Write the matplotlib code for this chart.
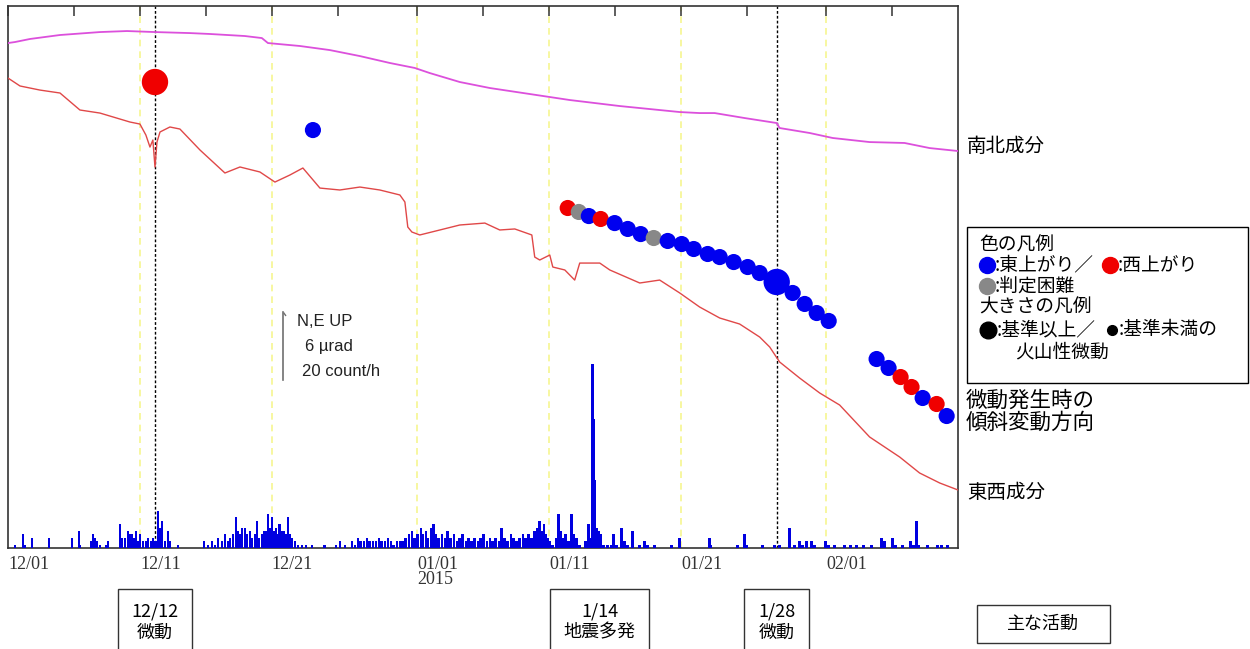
import matplotlib
matplotlib.use('Agg')
import matplotlib.dates as mdates
import matplotlib.pyplot as plt
import numpy as np
import pandas as pd
from matplotlib.lines import Line2D
from matplotlib.patches import Rectangle
from matplotlib.path import Path
from matplotlib.transforms import blended_transform_factory

W, H = 1250, 649
JP = ['Noto Sans CJK JP', 'DejaVu Sans']
SERIF = ['Liberation Serif', 'DejaVu Serif']
LATIN = ['Liberation Sans', 'DejaVu Sans']

START = pd.Timestamp('2014-12-01')
END = pd.Timestamp('2015-02-11')

# tilt (µrad, relative), days since START
ns_day = [0.0, 0.53, 1.67, 3.94, 6.97, 9.02, 11.14, 13.79, 15.3, 17.95, 19.24, 19.7,
          22.12, 24.39, 26.67, 28.94, 30.83, 31.97, 34.24, 36.52, 39.55, 42.58, 46.36,
          50.91, 52.42, 53.56, 55.83, 58.26, 58.48, 60.76, 62.5, 65.3, 67.95, 69.85, 72.0]
ns_tilt = [44.57, 44.66, 44.93, 45.28, 45.54, 45.63, 45.54, 45.45, 45.37, 45.19, 45.01, 44.57,
           44.31, 43.95, 43.42, 42.81, 42.37, 41.92, 41.13, 40.6, 40.07, 39.54, 39.01,
           38.48, 38.39, 38.39, 37.95, 37.51, 37.07, 36.63, 36.19, 35.83, 35.75, 35.3, 35.04]

ew_day = [0.0, 0.91, 2.42, 3.94, 5.45, 6.97, 9.24, 10.0, 10.45, 10.76, 10.98, 11.14, 11.29,
          11.52, 12.27, 13.03, 14.55, 16.44, 17.58, 19.09, 20.23, 21.36, 22.35, 23.64, 25.15,
          26.67, 28.18, 29.7, 30.08, 30.3, 30.61, 31.21, 32.73, 34.24, 36.14, 37.27, 38.41,
          39.7, 39.92, 40.3, 41.06, 41.29, 42.2, 42.95, 43.33, 44.85, 45.61, 47.88, 49.39,
          50.91, 52.42, 53.94, 55.45, 56.97, 57.73, 58.48, 60.0, 61.52, 63.03, 65.3, 67.58,
          69.09, 70.61, 72.0]
ew_tilt = [41.48, 40.78, 40.42, 40.16, 38.66, 38.39, 37.6, 37.42, 36.45, 35.39, 36.01, 33.63,
           35.83, 36.72, 37.16, 36.98, 35.13, 33.1, 33.63, 33.19, 32.3, 32.92, 33.54, 31.77,
           31.6, 31.86, 31.6, 31.16, 30.54, 28.33, 27.89, 27.63, 28.07, 28.51, 28.68, 28.07,
           28.16, 27.63, 25.68, 25.42, 25.86, 24.8, 24.54, 23.65, 25.15, 25.15, 24.54, 23.39,
           23.65, 22.51, 21.27, 20.3, 19.77, 18.62, 17.74, 16.42, 15.0, 13.68, 12.62, 9.8,
           8.03, 6.62, 5.74, 5.12]

# hourly earthquake counts: (days since START, count/h)
quake_hours = [
    (0.53, 1), (1.14, 4), (1.29, 1), (1.82, 3), (3.1, 3), (4.85, 3), (5.38, 5), (5.45, 1),
    (6.29, 2), (6.44, 4), (6.6, 3), (6.74, 2), (6.97, 1), (7.42, 1), (7.58, 2),
    (8.48, 7), (8.64, 3), (8.86, 3), (9.09, 5), (9.24, 4), (9.39, 4), (9.55, 3), (9.7, 5),
    (9.85, 2), (10.0, 4), (10.23, 2), (10.45, 2), (10.6, 3), (10.83, 2), (10.98, 3), (11.2, 2),
    (11.36, 11), (11.52, 6), (11.67, 8), (11.89, 2), (12.12, 5), (12.27, 2), (12.88, 1),
    (14.85, 2), (15.15, 1), (15.45, 2), (15.68, 1), (15.91, 3), (16.21, 2), (16.44, 4),
    (16.67, 2), (16.82, 3), (17.05, 4), (17.27, 9), (17.42, 5), (17.58, 4), (17.73, 6),
    (17.95, 6), (18.11, 4), (18.33, 5), (18.48, 3), (18.71, 4), (18.86, 8), (19.02, 3),
    (19.24, 4), (19.39, 5), (19.55, 5), (19.7, 10), (19.85, 6), (20.0, 9), (20.15, 5),
    (20.3, 6), (20.45, 4), (20.6, 7), (20.76, 5), (20.91, 5), (21.06, 4), (21.21, 9),
    (21.36, 4), (21.52, 3), (21.74, 2), (21.97, 1), (22.27, 1), (22.58, 1), (23.03, 1),
    (24.0, 1), (24.85, 1), (25.15, 2), (25.53, 1),
    (26.06, 2), (26.29, 1), (26.52, 3), (26.74, 2), (26.97, 2), (27.2, 3), (27.42, 2),
    (27.65, 2), (27.88, 2), (28.11, 3), (28.33, 2), (28.56, 2), (28.79, 3), (29.02, 2),
    (29.24, 1), (29.47, 2), (29.7, 2), (29.92, 2), (30.15, 3), (30.38, 4), (30.61, 5),
    (30.83, 3), (31.06, 4), (31.29, 6), (31.44, 4), (31.67, 5), (31.82, 3), (32.05, 6),
    (32.27, 7), (32.42, 4), (32.65, 3), (32.88, 4), (33.11, 3), (33.33, 5), (33.56, 3),
    (33.79, 4), (34.02, 2), (34.24, 3), (34.47, 4), (34.7, 2), (34.92, 3), (35.15, 2),
    (35.38, 3), (35.61, 2), (35.83, 3), (36.06, 4), (36.29, 2), (36.52, 3), (36.74, 2),
    (36.97, 3), (37.2, 2), (37.42, 6), (37.65, 3), (37.88, 2), (38.11, 4), (38.33, 3),
    (38.56, 2), (38.79, 3), (39.02, 4), (39.24, 3), (39.47, 4), (39.7, 3), (39.92, 5),
    (40.15, 6), (40.3, 8), (40.45, 5), (40.61, 7), (40.76, 4), (40.91, 3), (41.06, 2),
    (41.29, 1), (41.52, 3), (41.74, 10), (41.89, 5), (42.05, 3), (42.27, 4), (42.5, 2),
    (42.73, 10), (42.88, 4), (43.11, 3), (43.33, 1), (43.79, 2), (44.02, 7), (44.17, 3),
    (44.32, 54), (44.39, 38), (44.47, 20), (44.62, 6), (44.77, 5), (44.92, 4), (45.15, 1),
    (45.45, 1), (45.76, 1), (45.91, 4), (46.14, 1), (46.52, 6), (46.74, 2), (46.97, 1),
    (47.35, 5), (47.88, 1), (48.26, 2), (48.48, 1), (49.02, 1), (50.3, 1), (50.91, 3),
    (53.18, 3), (53.26, 1), (55.3, 1), (55.83, 4), (55.98, 1), (57.2, 1), (58.1, 1),
    (58.48, 1), (59.24, 6), (59.62, 1), (60.0, 2), (60.23, 1), (60.53, 2), (60.91, 2),
    (61.14, 1), (61.97, 2), (62.2, 1), (62.65, 1), (63.41, 1), (63.86, 1), (64.32, 1),
    (64.85, 1), (65.45, 1), (66.21, 3), (66.44, 2), (67.05, 3), (67.27, 1), (67.8, 1),
    (68.41, 2), (68.64, 1), (68.86, 8), (69.02, 1), (69.7, 1), (70.45, 1), (70.76, 1),
    (71.21, 1),
]

# tremor episodes: time, plotting position, tilt direction (E/W/? = unclear), size class
tremor_day = [11.14, 23.11, 42.42, 43.26, 44.02, 44.92, 45.98, 46.97, 47.95, 48.94,
              50.0, 51.06, 51.97, 53.03, 53.94, 55.0, 56.06, 56.97, 58.26, 59.47,
              60.38, 61.29, 62.2, 65.83, 66.74, 67.65, 68.48, 69.32, 70.38, 71.14]
tremor_pos = [41.13, 36.89, 30.01, 29.66, 29.3, 29.04, 28.68, 28.16, 27.71, 27.36,
              27.1, 26.83, 26.39, 25.95, 25.68, 25.24, 24.8, 24.27, 23.48, 22.51,
              21.54, 20.74, 20.04, 16.68, 15.89, 15.09, 14.21, 13.24, 12.71, 11.65]
tremor_dir = ['W', 'E', 'W', '?', 'E', 'W', 'E', 'E', 'E', '?',
              'E', 'E', 'E', 'E', 'E', 'E', 'E', 'E', 'E', 'E',
              'E', 'E', 'E', 'E', 'E', 'W', 'W', 'E', 'W', 'E']
tremor_big = [1, 0, 0, 0, 0, 0, 0, 0, 0, 0,
              0, 0, 0, 0, 0, 0, 0, 0, 1, 0,
              0, 0, 0, 0, 0, 0, 0, 0, 0, 0]

event_times = ['2014-12-12 03:00', '2015-01-28 06:00']
grid_dates = ['2014-12-11', '2014-12-21', '2015-01-01', '2015-01-11', '2015-01-21', '2015-02-01']
label_dates = ['2014-12-01', '2014-12-11', '2014-12-21', '2015-01-01', '2015-01-11',
               '2015-01-21', '2015-02-01']
label_text = ['12/01', '12/11', '12/21', '01/01\n2015', '01/11', '01/21', '02/01']
minor_dates = ['2014-12-06', '2014-12-16', '2014-12-26', '2015-01-06', '2015-01-16',
               '2015-01-26', '2015-02-06']

activity_times = ['2014-12-12 03:00', '2015-01-14 20:00', '2015-01-28 06:00']
activity_text = ['12/12\n微動', '1/14\n地震多発', '1/28\n微動']

SCALE_TILT = 6      # µrad
SCALE_COUNT = 20    # count/h
TILT_RANGE = 47.84
scale_bar_day = 20.83
scale_bar_base = 14.83

DIR_COLOR = {'E': '#0000f0', 'W': '#f00000', '?': '#888888'}


def px(x, y):
    return x / W, 1 - y / H


def to_num(days):
    return mdates.date2num(START) + np.asarray(days, dtype=float)


def dnum(stamps):
    return mdates.date2num(pd.to_datetime(stamps))


fig = plt.figure(figsize=(W / 100, H / 100), dpi=100)
ax = fig.add_axes([8 / W, 1 - 548 / H, 950 / W, 542 / H])
ax_q = ax.twinx()

ax.set_xlim(dnum(START), dnum(END))
ax.set_ylim(0, TILT_RANGE)
ax_q.set_ylim(0, TILT_RANGE / SCALE_TILT * SCALE_COUNT)

# vertical guides
for d in dnum(grid_dates):
    ax.axvline(d, color='#f6f690', lw=1.2, ls=(0, (4, 3)), zorder=1)
for d in dnum(event_times):
    ax.axvline(d, color='black', lw=1.0, ls=(0, (2, 1.5)), zorder=2)

# tilt components
ax.plot(to_num(ns_day), ns_tilt, color='#dc50dc', lw=1.3, zorder=3)
ax.plot(to_num(ew_day), ew_tilt, color='#e04848', lw=1.0, zorder=3)

# tremor tilt direction dots
colors = [DIR_COLOR[k] for k in tremor_dir]
sizes = [360 if b else 135 for b in tremor_big]
ax.scatter(to_num(tremor_day), tremor_pos, s=sizes, c=colors, linewidths=0, zorder=4)

# hourly counts
q = np.array(quake_hours)
ax_q.bar(to_num(q[:, 0]), q[:, 1], width=0.2, color='#0000e0', lw=0, zorder=2)

# scale bar
sb_x = to_num([scale_bar_day])[0]
ax.plot([sb_x, sb_x], [scale_bar_base, scale_bar_base + SCALE_TILT], color='#707070', lw=1.2)
hook = Path([(0, 0), (1, -1.4)], [Path.MOVETO, Path.LINETO])
ax.plot([sb_x], [scale_bar_base + SCALE_TILT], marker=hook, ms=5, mew=1.0, color='#707070')
top = (sb_x, scale_bar_base + SCALE_TILT)
for txt, dx, dy in [('N,E UP', 10, -6.5), ('6 µrad', 16, -25), (f'{SCALE_COUNT} count/h', 14, -42.5)]:
    ax.annotate(txt, xy=top, xytext=(dx, dy), textcoords='offset points', va='center', ha='left',
                fontsize=12, family=LATIN, color='#222222')

# axes styling
for a in (ax, ax_q):
    a.set_yticks([])
for s in ax.spines.values():
    s.set_color('#333333')
    s.set_linewidth(1.2)
for s in ax_q.spines.values():
    s.set_visible(False)

ax.set_xticks(dnum(label_dates))
ax.set_xticklabels(label_text, family=SERIF, fontsize=13, color='#333333')
ax.set_xticks(dnum(minor_dates), minor=True)
ax.tick_params(axis='x', which='both', direction='in', top=True, bottom=False,
               labeltop=False, labelbottom=True, length=7, width=1.1, color='#333333', pad=6)
for lbl in ax.get_xticklabels():
    lbl.set_horizontalalignment('left')
    lbl.set_linespacing(0.85)

# component labels at the right end of each trace
ax.annotate('南北成分', xy=(to_num([ns_day[-1]])[0], ns_tilt[-1]), xytext=(6.5, 3),
            textcoords='offset points', va='center', ha='left', fontsize=14, family=JP,
            annotation_clip=False)
ax.annotate('東西成分', xy=(to_num([ew_day[-1]])[0], ew_tilt[-1]), xytext=(6.5, -2),
            textcoords='offset points', va='center', ha='left', fontsize=14, family=JP,
            annotation_clip=False)

# main activity boxes
trans = blended_transform_factory(ax.transData, fig.transFigure)
for t, txt in zip(dnum(activity_times), activity_text):
    ax.text(t, 1 - 622 / H, txt, transform=trans, ha='center', va='center', fontsize=13,
            family=JP, linespacing=1.2, clip_on=False,
            bbox=dict(boxstyle='square,pad=0.75', fc='white', ec='#333333', lw=1))

fig.add_artist(Rectangle(px(977, 643), 133 / W, 38 / H, transform=fig.transFigure,
                         fill=False, ec='#333333', lw=1))
fig.text(*px(1043, 624), '主な活動', ha='center', va='center', fontsize=13, family=JP)

# legend for dot colour and size
fig.add_artist(Rectangle(px(967, 383), 281 / W, 156 / H, transform=fig.transFigure,
                         fill=False, ec='black', lw=1))


def legend_dot(x, y, color, size):
    fig.add_artist(Line2D([x / W], [1 - y / H], marker='o', ms=size, mfc=color, mec=color,
                          ls='none', transform=fig.transFigure))


def legend_text(x, y, txt):
    fig.text(x / W, 1 - y / H, txt, ha='left', va='center', fontsize=13.5, family=JP)


legend_text(979, 245, '色の凡例')
legend_dot(987, 265, DIR_COLOR['E'], 11.5)
legend_text(995, 265, ':東上がり／')
legend_dot(1110, 265, DIR_COLOR['W'], 11.5)
legend_text(1118, 265, ':西上がり')
legend_dot(987, 286, DIR_COLOR['?'], 11.5)
legend_text(995, 286, ':判定困難')
legend_text(979, 307, '大きさの凡例')
legend_dot(988, 330, 'black', 12)
legend_text(997, 330, ':基準以上／')
legend_dot(1112, 330, 'black', 7)
legend_text(1119, 330, ':基準未満の')
legend_text(1015, 352, '火山性微動')

fig.text(966 / W, 1 - 412 / H, '微動発生時の\n傾斜変動方向', ha='left', va='center',
         fontsize=15.5, family=JP, linespacing=1.0)

fig.savefig('out.png', dpi=100)
